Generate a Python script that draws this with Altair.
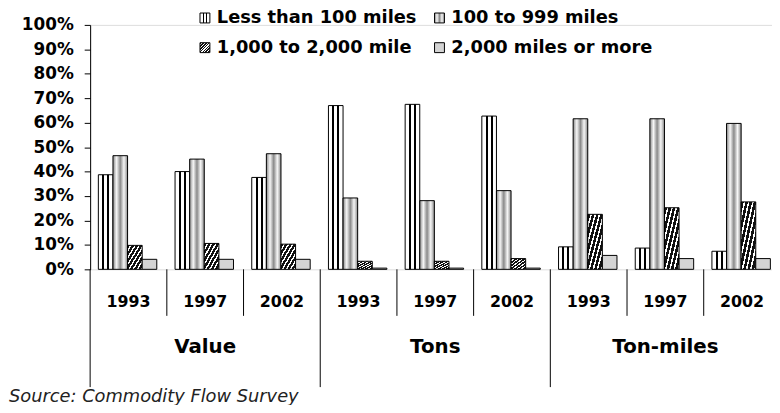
import altair as alt
import pandas as pd

groups = ["Value", "Tons", "Ton-miles"]
years = ["1993", "1997", "2002"]
series = ["Less than 100 miles", "100 to 999 miles", "1,000 to 2,000 mile", "2,000 miles or more"]

# shares in percent, order: Value 93/97/02, Tons 93/97/02, Ton-miles 93/97/02
less_100 = [38.7, 40.0, 37.6, 67.0, 67.5, 62.7, 9.2, 8.7, 7.4]
mid_100_999 = [46.5, 45.1, 47.3, 29.2, 28.1, 32.2, 61.6, 61.6, 59.7]
k1_2 = [9.8, 10.6, 10.3, 3.3, 3.3, 4.4, 22.5, 25.2, 27.6]
over_2000 = [4.1, 4.1, 4.1, 0.5, 0.5, 0.5, 5.7, 4.4, 4.4]

source_text = "Source:  Commodity Flow Survey"

slots = [f"{g}|{y}" for g in groups for y in years]
rows = []
for si, s in enumerate(series):
    vals = [less_100, mid_100_999, k1_2, over_2000][si]
    i = 0
    for g in groups:
        for y in years:
            rows.append({"slot": f"{g}|{y}", "group": g, "year": y, "series": s, "share": vals[i] / 100})
            i += 1
df = pd.DataFrame(rows)
slot_df = pd.DataFrame([{"slot": f"{g}|{y}", "group": g, "year": y} for g in groups for y in years])


def grad(x2, y2, stops):
    st = ",".join("{offset:%g,color:'%s'}" % (o, c) for o, c in stops)
    return {"expr": "{gradient:'linear',x1:0,y1:0,x2:%g,y2:%g,stops:[%s]}" % (x2, y2, st)}


vlines = [(0, "white"), (0.26, "white"), (0.26, "black"), (0.40, "black"), (0.40, "white"),
          (0.60, "white"), (0.60, "black"), (0.74, "black"), (0.74, "white"), (1, "white")]
diam = [(0, "#8a8a8a"), (0.25, "#f6f6f6"), (0.5, "#8a8a8a"), (0.75, "#f6f6f6"), (1, "#8a8a8a")]
diag = []
N = 7
for k in range(N):
    a = k / N
    b = (k + 0.62) / N
    c = (k + 1) / N
    diag += [(a, "#111111"), (b, "#111111"), (b, "white"), (c, "white")]

fill_range = [grad(1, 0, vlines), grad(1, 0, diam), grad(1, 1, diag), "#d4d4d4"]

FONT = "DejaVu Sans"
x_scale = alt.Scale(range=[0, 697.5], paddingInner=0, paddingOuter=0)

bars = alt.Chart(df).mark_bar(stroke="black", strokeWidth=1).encode(
    x=alt.X("slot:N", sort=slots, scale=x_scale,
            axis=alt.Axis(labels=False, ticks=False, domain=True, domainColor="black",
                          domainWidth=1, title=None, grid=False)),
    xOffset=alt.XOffset("series:N", sort=series,
                        scale=alt.Scale(paddingInner=0, paddingOuter=0.625, align=0.45)),
    y=alt.Y("share:Q", scale=alt.Scale(domain=[0, 1]),
            axis=alt.Axis(format=".0%", values=[i / 10 for i in range(11)], tickSize=6,
                          labelPadding=11, labelFont=FONT, labelFontWeight="bold",
                          labelFontSize=17, labelColor="black", domainColor="black",
                          tickColor="black", grid=False, title=None)),
    fill=alt.Fill("series:N", sort=series,
                  scale=alt.Scale(domain=series, range=fill_range),
                  legend=alt.Legend(title=None, orient="none", legendX=107, legendY=-16,
                                    direction="horizontal", columns=2, columnPadding=14,
                                    rowPadding=12, labelLimit=400,
                                    symbolType="square", symbolSize=100,
                                    symbolStrokeColor="black", symbolStrokeWidth=1,
                                    labelFont=FONT, labelFontWeight="bold", labelFontSize=18,
                                    labelColor="black", labelOffset=3, padding=0)),
)

short_rules = alt.Chart(slot_df).transform_filter(alt.datum.year != years[0]).mark_rule(
    color="black", strokeWidth=1).encode(
    x=alt.X("slot:N", sort=slots, scale=x_scale, bandPosition=0, axis=None),
    y=alt.value(247), y2=alt.value(294))

long_rules = alt.Chart(slot_df).transform_filter(alt.datum.year == years[0]).mark_rule(
    color="black", strokeWidth=1).encode(
    x=alt.X("slot:N", sort=slots, scale=x_scale, bandPosition=0, axis=None),
    y=alt.value(247), y2=alt.value(366))

year_text = alt.Chart(slot_df).mark_text(font=FONT, fontWeight="bold", fontSize=16,
                                         color="black", baseline="middle").encode(
    x=alt.X("slot:N", sort=slots, scale=x_scale, axis=None),
    y=alt.value(280), text="year:N")

group_text = alt.Chart(slot_df).transform_filter(alt.datum.year == years[1]).mark_text(
    font=FONT, fontWeight="bold", fontSize=20, color="black", baseline="middle").encode(
    x=alt.X("slot:N", sort=slots, scale=x_scale, axis=None),
    y=alt.value(326), text="group:N")

src = alt.Chart(pd.DataFrame({"t": [source_text]})).mark_text(
    font=FONT, fontStyle="italic", fontSize=18, color="#222222", align="left",
    baseline="middle").encode(x=alt.value(-82), y=alt.value(376), text="t:N")

chart = alt.layer(bars, short_rules, long_rules, year_text, group_text, src).properties(
    width=689, height=247,
    autosize=alt.AutoSizeParams(type="none"),
    padding={"left": 83, "top": 15, "right": 0, "bottom": 135},
).configure_view(stroke=None).configure(background="white")

chart.save("out.html", embed_options={"renderer": "svg", "actions": False})
